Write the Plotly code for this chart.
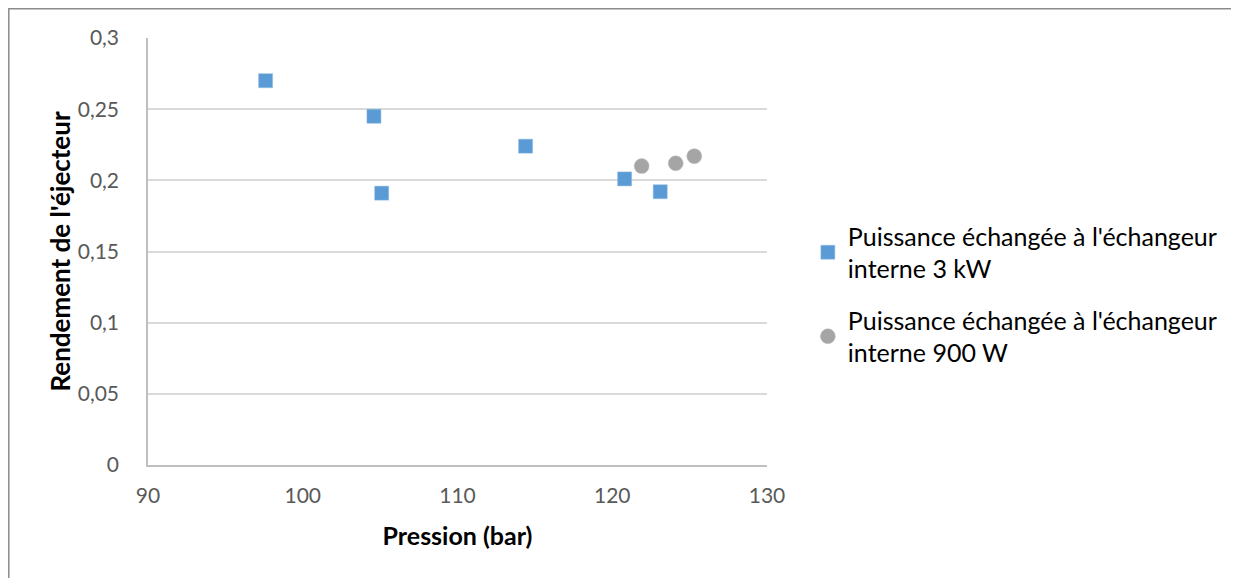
import plotly.graph_objects as go

# Data
pression_3kw = [97.6, 104.6, 114.4, 105.1, 120.8, 123.1]
rendement_3kw = [0.270, 0.245, 0.224, 0.191, 0.201, 0.192]
pression_900w = [121.9, 124.1, 125.3]
rendement_900w = [0.210, 0.212, 0.217]
name_3kw = "Puissance échangée à l'échangeur<br>interne 3 kW"
name_900w = "Puissance échangée à l'échangeur<br>interne 900 W"
y_ticks = [0, 0.05, 0.1, 0.15, 0.2, 0.25, 0.3]
x_ticks = [90, 100, 110, 120, 130]

FONT = "Lato"
PW, PH = 619, 427
L, T = 140, 30

fig = go.Figure()
fig.add_trace(go.Scatter(
    x=pression_3kw, y=rendement_3kw, mode="markers", name=name_3kw,
    legendgroup="a",
    marker=dict(symbol="square", size=14, color="#5B9BD5",
                line=dict(width=0.5, color="#8FBBE3")),
))
fig.add_trace(go.Scatter(
    x=pression_900w, y=rendement_900w, mode="markers", name=name_900w,
    legendgroup="b",
    marker=dict(symbol="circle", size=15, color="#A5A5A5",
                line=dict(width=0.5, color="#C0C0C0")),
))

fig.update_layout(
    width=1239, height=578,
    margin=dict(l=L, r=1239 - L - PW, t=T, b=578 - T - PH),
    paper_bgcolor="white", plot_bgcolor="white",
    separators=", ",
    font=dict(family=FONT, size=21, color="#595959"),
    showlegend=True,
    legend=dict(x=1.066, y=0.40, xanchor="left", yanchor="middle",
                font=dict(family=FONT, size=25, color="#000000"),
                itemsizing="trace", tracegroupgap=16,
                itemwidth=30, bgcolor="rgba(0,0,0,0)"),
    xaxis=dict(range=[90, 130], tickvals=x_ticks, showgrid=False,
               showline=True, linecolor="#BFBFBF", linewidth=1.5,
               zeroline=False, ticks="", ticklabelstandoff=11,
               tickfont=dict(family=FONT, size=21, color="#595959"),
               title=dict(text="<b>Pression (bar)</b>", standoff=22,
                          font=dict(family=FONT, size=25, color="#000000"))),
    yaxis=dict(range=[0, 0.3], tickvals=y_ticks, showgrid=True,
               gridcolor="#D9D9D9", gridwidth=1.5,
               showline=True, linecolor="#BFBFBF", linewidth=1.5,
               zeroline=False, ticks="", ticklabelstandoff=23,
               tickfont=dict(family=FONT, size=21, color="#595959"),
               title=dict(text="<b>Rendement de l'éjecteur</b>", standoff=0,
                          font=dict(family=FONT, size=26, color="#000000"))),
    shapes=[dict(type="rect", xref="paper", yref="paper",
                 x0=(0.8 - L) / PW, x1=(1300 - L) / PW,
                 y0=(T + PH - 650) / PH, y1=(T + PH - 0.8) / PH,
                 line=dict(color="#8C8C8C", width=1.5), fillcolor="rgba(0,0,0,0)",
                 layer="below")],
)

fig.write_html("out.html")
